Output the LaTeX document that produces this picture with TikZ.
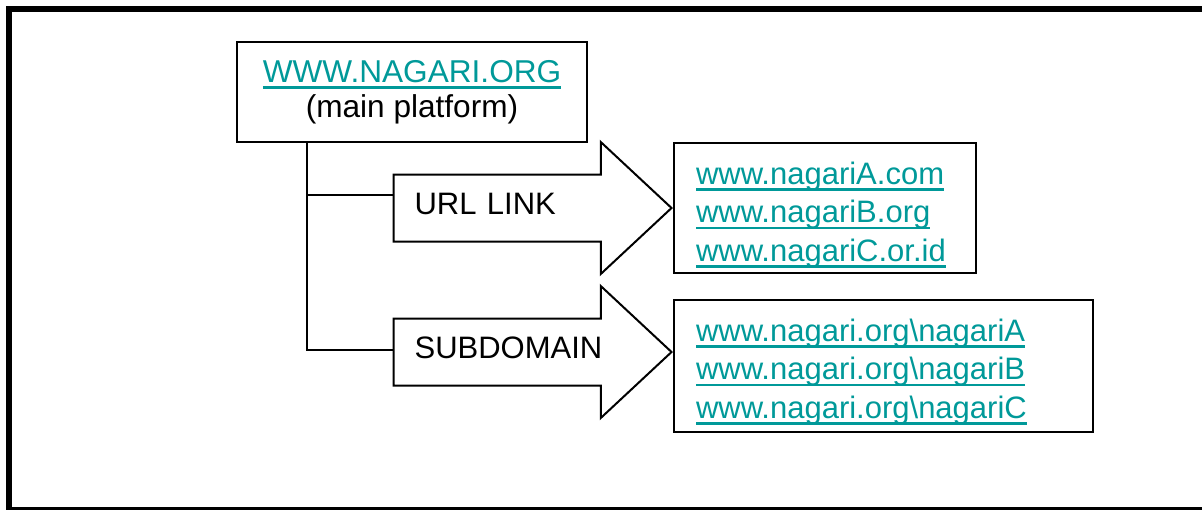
\documentclass[tikz,border=0pt]{standalone}
\usepackage{fontspec}
\setmainfont{Liberation Sans}
\usetikzlibrary{shapes.arrows}
\definecolor{linkteal}{RGB}{0,153,153}
\newsavebox{\linkbox}
\newcommand{\weblink}[1]{\textcolor{linkteal}{\sbox{\linkbox}{#1}%
  \rlap{\rule[-3.4pt]{\wd\linkbox}{1.3pt}}\usebox{\linkbox}}}

\begin{document}
\begin{tikzpicture}
[
x=0.5pt,y=-0.5pt,
every node/.style={font=\fontsize{15.5}{19.25}\selectfont},
boxline/.style={draw,line width=1pt},
mainbox/.style={boxline,minimum width=175pt,minimum height=50pt,align=center,
  font=\fontsize{15.8}{17.5}\selectfont},
listbox/.style={boxline,anchor=north west,inner xsep=11pt,inner ysep=0pt,align=left},
arrowbox/.style={boxline,single arrow,anchor=tip,single arrow head extend=16.25pt,
  single arrow tip angle=86,minimum height=139pt,text width=100pt,align=left,
  inner xsep=7pt,inner ysep=0pt,text height=19.5pt,text depth=13pt}
]

\useasboundingbox (0,0) rectangle (1202,509);
\clip (0,0) rectangle (1202,509);
\draw[line width=3pt] (9,9) rectangle (1216,510);

\node[mainbox] (main) at (412,92) {\weblink{WWW.NAGARI.ORG}\\(main platform)};

\node[listbox,text width=129pt] (links) at (673,142) {%
  \rule{0pt}{20.5pt}\weblink{www.nagariA.com}\\
  \weblink{www.nagariB.org}\\
  \weblink{www.nagariC.or.id}\rule[-6pt]{0pt}{6pt}};
\node[listbox,text width=187.5pt] (subs) at (673,299) {%
  \rule{0pt}{20.5pt}\weblink{www.nagari.org\textbackslash nagariA}\\
  \weblink{www.nagari.org\textbackslash nagariB}\\
  \weblink{www.nagari.org\textbackslash nagariC}\rule[-7pt]{0pt}{7pt}};

\node[arrowbox] (url) at (673,208) {URL LINK};
\node[arrowbox] (sub) at (673,352) {SUBDOMAIN};

% tree from the main platform
\coordinate (trunk) at ([xshift=35.5pt]main.south west);
\draw[line width=1pt] (trunk) |- ([yshift=6.5pt]url.tail);
\draw[line width=1pt] (trunk) |- ([yshift=1pt]sub.tail);

\end{tikzpicture}
\end{document}
